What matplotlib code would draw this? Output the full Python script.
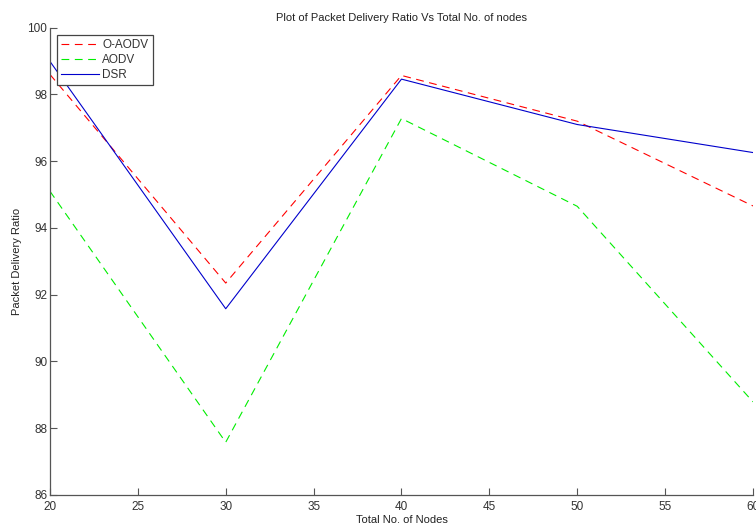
import matplotlib
matplotlib.use('Agg')
import matplotlib.pyplot as plt

# packet delivery ratio per number of nodes
nodes = [20, 30, 40, 50, 60]
o_aodv = [98.6, 92.35, 98.57, 97.2, 94.66]
aodv = [95.1, 87.58, 97.28, 94.65, 88.79]
dsr = [98.99, 91.58, 98.46, 97.1, 96.26]

xticks = [20, 25, 30, 35, 40, 45, 50, 55, 60]
yticks = [86, 88, 90, 92, 94, 96, 98, 100]

plt.rcParams['font.family'] = ['Liberation Sans', 'DejaVu Sans']

fig = plt.figure(figsize=(7.56, 5.29), dpi=100)
ax = fig.add_axes([0.0661, 0.0643, 0.9299, 0.8833])

ax.plot(nodes, o_aodv, color='#ff0000', linewidth=0.8, dashes=(7, 5), label='O-AODV')
ax.plot(nodes, aodv, color='#00ee00', linewidth=0.8, dashes=(7, 5), label='AODV')
ax.plot(nodes, dsr, color='#0000cc', linewidth=0.8, label='DSR')

ax.set_xlim(20, 60)
ax.set_ylim(86, 100)
ax.set_xticks(xticks)
ax.set_yticks(yticks)

for side in ['top', 'right']:
    ax.spines[side].set_visible(False)
for side in ['left', 'bottom']:
    ax.spines[side].set_color('#555555')
    ax.spines[side].set_linewidth(0.9)
ax.tick_params(direction='in', length=5, width=0.8, color='#555555',
               labelsize=8.5, labelcolor='#333333')
ax.tick_params(axis='x', pad=4)
ax.tick_params(axis='y', pad=2)

ax.set_title('Plot of Packet Delivery Ratio Vs Total No. of nodes', fontsize=8, color='#222222', pad=5)
ax.set_xlabel('Total No. of Nodes', fontsize=8, color='#222222', labelpad=2)
ax.set_ylabel('Packet Delivery Ratio', fontsize=8, color='#222222', labelpad=4)

leg = ax.legend(loc='upper left', bbox_to_anchor=(0.01, 0.985), fontsize=8.5,
                fancybox=False, framealpha=1, edgecolor='#444444',
                handlelength=3.2, handletextpad=0.3, labelspacing=0.25,
                borderpad=0.35, borderaxespad=0)
leg.get_frame().set_linewidth(0.9)
for t in leg.get_texts():
    t.set_color('#333333')

plt.savefig('out.png', dpi=100)
